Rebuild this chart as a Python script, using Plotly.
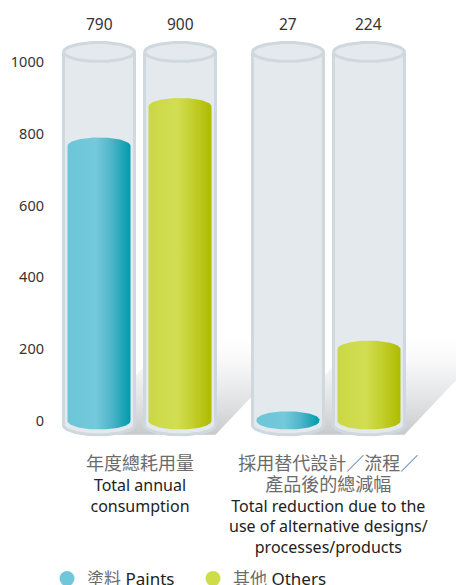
import numpy as np
import plotly.graph_objects as go

# ---- data -------------------------------------------------------------
series_en = ["Paints", "Others"]
series_zh = ["塗料", "其他"]
paints = [790, 27]      # total annual consumption, total reduction
others = [900, 224]
y_ticks = [0, 200, 400, 600, 800, 1000]
y_ticktext = ["0", "200", "400", "600", "800", "1000"]

group_zh = [["年度總耗用量"], ["採用替代設計／流程／", "產品後的總減幅"]]
group_en = [["Total annual", "consumption"],
            ["Total reduction due to the", "use of alternative designs/", "processes/products"]]

# ---- styling ----------------------------------------------------------
W, H = 456, 585
ML = 47
PX_PER_X = 81.0            # pixels per x unit
PX_PER_Y = 0.359           # pixels per value unit
X0_PX, Y0_PX = 99.0, 421.0 # pixel position of first tube centre / value 0

GROUP_X = [0.5, 2.833]
SERIES_OFFSET = [-0.5, 0.5]

TUBE_HW = 35.5 / PX_PER_X
BAR_HW = 31.5 / PX_PER_X
TUBE_TOP = 1028
TUBE_BOT = -12
TUBE_RY = 9.5 / PX_PER_Y
BAR_RY = 8.5 / PX_PER_Y

SERIES_SCALE = [
    [[0, "#6cc5d8"], [0.45, "#74c9db"], [0.7, "#4fb5c8"], [1, "#009aab"]],
    [[0, "#cbd845"], [0.45, "#d2de52"], [0.7, "#c3cf2c"], [1, "#aebb00"]],
]
SERIES_SWATCH = ["#6fc7d9", "#cedc4c"]
TUBE_FILL = "#e4e9ed"
TUBE_LINE = "#cfd8de"

FONT_EN = "Noto Sans"
FONT_ZH = "Noto Sans CJK TC"
ZH_COLOR = "#6b6b6b"
EN_COLOR = "#222222"

x_range = [(ML - X0_PX) / PX_PER_X, (W - X0_PX) / PX_PER_X]
y_range = [-(H - Y0_PX) / PX_PER_Y, Y0_PX / PX_PER_Y]


def arc(cx, cy, rx, ry, t0, t1, n=60):
    t = np.linspace(t0, t1, n)
    return cx + rx * np.cos(t), cy + ry * np.sin(t)


def cylinder(cx, hw, top, bottom, ry):
    xt, yt = arc(cx, top, hw, ry, np.pi, 0)
    xb, yb = arc(cx, bottom, hw, ry, 0, -np.pi)
    x = np.concatenate([xt, xb, xt[:1]])
    y = np.concatenate([yt, yb, yt[:1]])
    return x, y


fig = go.Figure()
values = [paints, others]

# soft shadows cast up and to the right behind each pair of tubes
sh_dx = 101 / PX_PER_X
sh_dy = 107 / PX_PER_Y
for g, gx in enumerate(GROUP_X):
    xl = gx + SERIES_OFFSET[0] - TUBE_HW + 0.2
    xr = gx + SERIES_OFFSET[1] + TUBE_HW
    yb = TUBE_BOT - TUBE_RY
    fig.add_trace(go.Scatter(
        x=[xl, xr, xr + sh_dx, xl + sh_dx, xl],
        y=[yb, yb, yb + sh_dy, yb + sh_dy, yb],
        mode="lines", line=dict(width=0), fill="toself",
        fillgradient=dict(type="vertical", start=yb, stop=yb + sh_dy,
                          colorscale=[[0, "rgba(196,198,201,0.95)"],
                                      [0.5, "rgba(225,226,228,0.6)"],
                                      [1, "rgba(255,255,255,0)"]]),
        hoverinfo="skip", showlegend=False))

# glass tubes with coloured cylinders inside
for g, gx in enumerate(GROUP_X):
    for s in range(2):
        cx = gx + SERIES_OFFSET[s]
        tx, ty = cylinder(cx, TUBE_HW, TUBE_TOP, TUBE_BOT, TUBE_RY)
        fig.add_trace(go.Scatter(
            x=tx, y=ty, mode="lines", fill="toself", fillcolor=TUBE_FILL,
            line=dict(color=TUBE_LINE, width=3), hoverinfo="skip", showlegend=False))
        rx, ryy = arc(cx, TUBE_TOP, TUBE_HW, TUBE_RY, np.pi, 2 * np.pi)
        fig.add_trace(go.Scatter(
            x=rx, y=ryy, mode="lines", line=dict(color=TUBE_LINE, width=3),
            hoverinfo="skip", showlegend=False))

        # the liquid's top rim reaches the value; its bottom rests on zero
        v = values[s][g]
        top_c = max(v - BAR_RY, 0)
        bx, by = cylinder(cx, BAR_HW, top_c, 0, BAR_RY)
        fig.add_trace(go.Scatter(
            x=bx, y=by, mode="lines", line=dict(width=0), fill="toself",
            fillgradient=dict(type="horizontal", start=cx - BAR_HW, stop=cx + BAR_HW,
                              colorscale=SERIES_SCALE[s]),
            name=series_en[s], hovertemplate=f"{series_en[s]}: {v}<extra></extra>",
            showlegend=False))

        fig.add_annotation(x=cx, y=1106, text=str(v), showarrow=False,
                           font=dict(family=FONT_EN, size=15.5, color="#333333"))

# category labels: Chinese lines followed by English lines, one block per group
LABEL_TOP = 447
for g, gx in enumerate(GROUP_X):
    zh = [f'<span style="font-family:{FONT_ZH};font-size:18px;color:{ZH_COLOR}">{t}</span>'
          for t in group_zh[g]]
    text = "<br>".join(zh + group_en[g])
    fig.add_annotation(x=gx, xref="x", y=1 - LABEL_TOP / H, yref="paper",
                       text=text, showarrow=False, yanchor="top", align="center",
                       font=dict(family=FONT_EN, size=16, color=EN_COLOR))

# legend entries
for s in range(2):
    fig.add_trace(go.Scatter(
        x=[None], y=[None], mode="markers",
        marker=dict(size=15, color=SERIES_SWATCH[s]),
        name=f'<span style="font-family:{FONT_ZH};color:{ZH_COLOR}">{series_zh[s]}</span> {series_en[s]}'))

fig.update_layout(
    width=W, height=H,
    margin=dict(l=ML, r=0, t=0, b=0, autoexpand=False),
    paper_bgcolor="white", plot_bgcolor="white",
    font=dict(family=FONT_EN, color="#333333"),
    xaxis=dict(range=x_range, visible=False, fixedrange=True),
    yaxis=dict(range=y_range, tickvals=y_ticks, ticktext=y_ticktext,
               showgrid=False, zeroline=False, showline=False, ticks="",
               ticklabelstandoff=2,
               tickfont=dict(family=FONT_EN, size=14.5, color="#333333"),
               fixedrange=True),
    legend=dict(orientation="h", x=0, xanchor="left", y=1 - 579 / H, yanchor="middle",
                entrywidth=101, entrywidthmode="pixels",
                font=dict(family=FONT_EN, size=17, color=EN_COLOR),
                bgcolor="rgba(0,0,0,0)", itemclick=False, itemdoubleclick=False),
)

fig.write_html("out.html")
